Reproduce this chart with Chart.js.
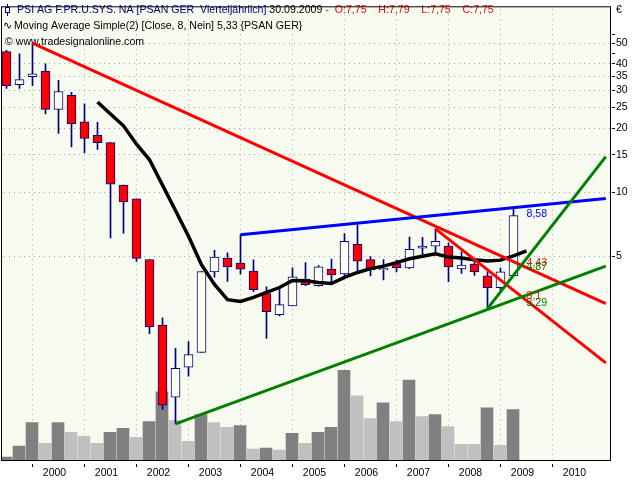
<!DOCTYPE html>
<html>
<head>
<meta charset="utf-8">
<title>PSI AG quarterly</title>
<script src="https://cdn.jsdelivr.net/npm/chart.js@4.4.0/dist/chart.umd.min.js"></script>
<style>
  html, body { margin: 0; padding: 0; background: #ffffff; }
  canvas { display: block; }
</style>
</head>
<body>
<canvas id="chart" width="640" height="480"></canvas>
<script>
// quarterly bars, bar 0 is the leftmost candle
const years = ['2000', '2001', '2002', '2003', '2004', '2005', '2006', '2007', '2008', '2009', '2010'];
const yearStartBar = [2, 6, 10, 14, 18, 22, 26, 30, 34, 38, 42];
const priceTicks = [5, 10, 15, 20, 25, 30, 35, 40, 45, 50, 55];
const unlabeledTicks = [45, 55];

const open = [45.7, 32.0, 34.9, 36.9, 24.5, 28.5, 21.4, 18.5, 17.1, 10.8, 9.30, 4.83, 2.38, 1.09, 1.51, 1.77, 4.23, 4.91, 4.65, 4.27,
    3.34, 2.66, 2.93, 3.91, 3.64, 4.36, 4.14, 5.70, 4.83, 4.32, 4.62, 4.41, 5.46, 5.58, 5.59, 4.36, 4.60, 4.05, 3.56, 4.05];
const high = [46.3, 44.6, 50.1, 40.1, 33.5, 29.4, 26.0, 21.3, 17.1, 10.8, 9.30, 4.83, 2.57, 1.85, 1.99, 4.24, 5.34, 5.19, 6.31, 4.82,
    3.60, 3.57, 4.42, 4.67, 4.52, 4.85, 6.40, 7.05, 4.99, 4.83, 4.80, 6.16, 6.14, 6.73, 5.78, 5.26, 4.80, 4.23, 4.41, 8.39];
const low = [30.7, 30.7, 31.6, 23.3, 18.9, 16.3, 15.3, 15.9, 6.11, 6.42, 4.73, 2.17, 0.956, 0.818, 1.37, 1.77, 3.99, 3.81, 4.12, 3.41,
    2.06, 2.63, 2.93, 3.64, 3.62, 3.77, 4.05, 4.20, 4.05, 3.88, 4.23, 4.38, 5.01, 5.15, 3.80, 4.16, 4.07, 2.84, 3.45, 4.05];
const close = [31.6, 33.8, 36.0, 24.5, 29.7, 20.9, 17.9, 17.1, 10.9, 9.01, 4.89, 2.33, 1.00, 1.49, 1.73, 4.24, 4.96, 4.46, 4.35, 3.49,
    2.75, 2.97, 4.01, 3.68, 4.46, 4.09, 5.88, 4.75, 4.32, 4.39, 4.42, 5.40, 5.59, 5.88, 4.46, 4.55, 4.23, 3.56, 4.23, 7.76];
// volume (thousand shares)
const volume = [75, 350, 950, 425, 950, 700, 600, 425, 700, 800, 575, 975, 1725, 1000, 475, 1150, 950, 825, 875, 275,
    300, 250, 675, 425, 700, 825, 2275, 1625, 1050, 1450, 975, 2025, 1100, 1150, 850, 400, 400, 1325, 375, 1275];

// Moving Average Simple, first value at bar 7
const maFirstBar = 7;
const maValues = [26.5, 23.3, 20.5, 16.8, 14.2, 10.8, 8.21, 6.22, 4.57, 3.69, 3.13, 3.07, 3.21, 3.39, 3.57, 3.85, 3.84, 3.77,
    3.73, 3.98, 4.20, 4.38, 4.50, 4.67, 4.87, 5.01, 5.14, 4.96, 4.91, 4.82, 4.75, 4.80, 5.03, 5.30];

// trend lines: [bar, price] start and end
const redLineA = [[2, 50.1], [46.1, 3.00]];
const redLineB = [[33, 6.73], [46.1, 1.58]];
const blueLine = [[18, 6.31], [46.1, 9.34]];
const greenLineA = [[13, 0.818], [46.1, 4.50]];
const greenLineB = [[37, 2.84], [46.1, 14.7]];
const labelBar = 40;
const lineLabels = ['8,58', '4,43', '4,87', '3,1', '3,29'];
const lineLabelColors = ['#0000ff', '#ff0000', '#008000', '#ff0000', '#008000'];

const titleParts = [
    ['PSI AG F.PR.U.SYS. NA [PSAN GER  Vierteljährlich]', '#000080'],
    [' 30.09.2009', '#000000'],
    [' -  O:7,75    H:7,79    L:7,75    C:7,75', '#ff0000']
];
const maText = 'Moving Average Simple(2) [Close, 8, Nein] 5,33 {PSAN GER}';
const copyText = '© www.tradesignalonline.com';

const FONT = '"Liberation Sans", Arial, sans-serif';
const X_MIN = (2 - 6.5) / 13;
const X_MAX = X_MIN + 608 / 13;

const bars = open.map((o, i) => i);
const isUp = i => close[i] >= open[i];

const toPoints = line => line.map(p => ({ x: p[0], y: p[1] }));

// plot background, dotted grid, header texts (below the data)
const underPlugin = {
    id: 'under',
    beforeDatasetsDraw(chart) {
        const ctx = chart.ctx;
        const a = chart.chartArea;
        const xs = chart.scales.x;
        const ys = chart.scales.y;
        ctx.save();
        ctx.fillStyle = '#f7fbef';
        ctx.fillRect(a.left, a.top, a.right - a.left, a.bottom - a.top);

        ctx.strokeStyle = '#a8a8a8';
        ctx.lineWidth = 1;
        ctx.setLineDash([1, 4]);
        yearStartBar.forEach(b => {
            const px = Math.floor(xs.getPixelForValue(b)) + 0.5;
            ctx.beginPath();
            ctx.moveTo(px, a.top + 2);
            ctx.lineTo(px, a.bottom);
            ctx.stroke();
        });
        priceTicks.forEach(v => {
            if (unlabeledTicks.includes(v)) return;
            const py = Math.floor(ys.getPixelForValue(v)) + 0.5;
            ctx.beginPath();
            ctx.moveTo(a.left + 2, py);
            ctx.lineTo(a.right, py);
            ctx.stroke();
        });
        ctx.setLineDash([]);

        ctx.textBaseline = 'middle';
        ctx.font = '10.6px ' + FONT;
        // candle icon
        ctx.strokeStyle = '#000080';
        ctx.beginPath();
        ctx.moveTo(7.5, 4); ctx.lineTo(7.5, 16);
        ctx.stroke();
        ctx.fillStyle = '#f7fbef';
        ctx.fillRect(5.5, 7.5, 4, 5);
        ctx.strokeRect(5.5, 7.5, 4, 5);
        let x = 17;
        titleParts.forEach(p => {
            ctx.fillStyle = p[1];
            ctx.fillText(p[0], x, 10);
            x += ctx.measureText(p[0]).width;
        });
        ctx.fillStyle = '#000000';
        ctx.fillText('\u223F', 3, 26);
        ctx.fillText(maText, 14, 26);
        ctx.fillText(copyText, 5, 42);
        ctx.restore();
    }
};

// trend line values, plot frame, currency sign (above the data)
const overPlugin = {
    id: 'over',
    afterDatasetsDraw(chart) {
        const ctx = chart.ctx;
        const a = chart.chartArea;
        const xs = chart.scales.x;
        const ys = chart.scales.y;
        ctx.save();
        ctx.font = '10.6px ' + FONT;
        ctx.textBaseline = 'alphabetic';
        ctx.textAlign = 'left';
        lineLabels.forEach((t, i) => {
            const v = parseFloat(t.replace(',', '.'));
            const px = xs.getPixelForValue(labelBar);
            const py = ys.getPixelForValue(v);
            ctx.fillStyle = lineLabelColors[i];
            ctx.fillText(t, px, lineLabelColors[i] === '#ff0000' ? py - 2 : py + 11);
        });
        ctx.strokeStyle = '#000000';
        ctx.lineWidth = 1;
        ctx.strokeRect(a.left - 0.5, a.top - 0.5, a.right - a.left + 1, a.bottom - a.top + 1);
        ctx.fillStyle = '#000000';
        ctx.textBaseline = 'middle';
        ctx.fillText('€', a.right + 6, 10);
        ctx.restore();
    }
};

new Chart(document.getElementById('chart'), {
    type: 'bar',
    data: {
        datasets: [
            {
                label: 'Volume',
                data: bars.map(i => ({ x: i, y: volume[i] })),
                xAxisID: 'xv',
                yAxisID: 'yv',
                backgroundColor: bars.map(i => (i === 0 || volume[i] > volume[i - 1]) ? '#808080' : '#c0c0c0'),
                barThickness: 12,
                grouped: false,
                order: 20
            },
            {
                label: 'Wick',
                data: bars.map(i => ({ x: i, y: [low[i], high[i]] })),
                xAxisID: 'x',
                yAxisID: 'y',
                backgroundColor: '#000080',
                barThickness: 1,
                grouped: false,
                order: 19
            },
            {
                label: 'Body',
                data: bars.map(i => ({ x: i, y: [open[i], close[i]] })),
                xAxisID: 'x',
                yAxisID: 'y',
                backgroundColor: bars.map(i => isUp(i) ? '#fffff0' : '#ff0000'),
                borderColor: '#000080',
                borderWidth: 1,
                borderSkipped: false,
                barThickness: 9,
                grouped: false,
                order: 18
            },
            {
                type: 'line',
                label: 'MA',
                data: maValues.map((v, j) => ({ x: maFirstBar + j, y: v })),
                xAxisID: 'x',
                yAxisID: 'y',
                borderColor: '#000000',
                borderWidth: 3.5,
                pointRadius: 0,
                order: 10
            },
            ...[[redLineA, '#ff0000'], [redLineB, '#ff0000'], [blueLine, '#0000ff'], [greenLineA, '#008000'], [greenLineB, '#008000']]
                .map((l, k) => ({
                    type: 'line',
                    label: 'Trend ' + k,
                    data: toPoints(l[0]),
                    xAxisID: 'x',
                    yAxisID: 'y',
                    borderColor: l[1],
                    borderWidth: 3,
                    pointRadius: 0,
                    order: 5 - k
                }))
        ]
    },
    options: {
        responsive: false,
        animation: false,
        devicePixelRatio: 1,
        layout: { padding: { left: 2, top: 1, right: 0, bottom: 0 } },
        plugins: { legend: { display: false }, tooltip: { enabled: false } },
        scales: {
            x: {
                type: 'linear',
                position: 'bottom',
                offset: false,
                min: X_MIN,
                max: X_MAX,
                afterBuildTicks: s => { s.ticks = yearStartBar.map(v => ({ value: v })); },
                afterFit: s => { s.height = 20; },
                ticks: {
                    callback: (v) => years[yearStartBar.indexOf(v)],
                    font: { family: FONT, size: 10.5 },
                    color: '#000000',
                    labelOffset: 22,
                    padding: 0,
                    maxRotation: 0,
                    autoSkip: false
                },
                grid: {
                    offset: false,
                    drawOnChartArea: false,
                    tickColor: '#000000',
                    tickLength: 7,
                    tickBorderDash: [0, 4, 3, 100]
                },
                border: { display: false }
            },
            xv: {
                type: 'linear',
                display: false,
                offset: false,
                min: X_MIN + 0.5 / 13,
                max: X_MAX + 0.5 / 13
            },
            y: {
                type: 'logarithmic',
                position: 'right',
                bounds: 'data',
                min: Math.pow(10, -0.25694),
                max: Math.pow(10, 1.86806),
                afterBuildTicks: s => { s.ticks = priceTicks.map(v => ({ value: v })); },
                afterFit: s => { s.width = 30; },
                ticks: {
                    callback: (v) => unlabeledTicks.includes(v) ? '' : String(v),
                    font: { family: FONT, size: 10.5 },
                    color: '#000000',
                    padding: 1,
                    autoSkip: false
                },
                grid: {
                    drawOnChartArea: false,
                    tickColor: '#000000',
                    tickLength: 5,
                    tickBorderDash: [0, 2, 3, 100]
                },
                border: { display: false }
            },
            yv: {
                type: 'linear',
                display: false,
                min: 0,
                max: 11475
            }
        }
    },
    plugins: [underPlugin, overPlugin]
});
</script>
</body>
</html>
